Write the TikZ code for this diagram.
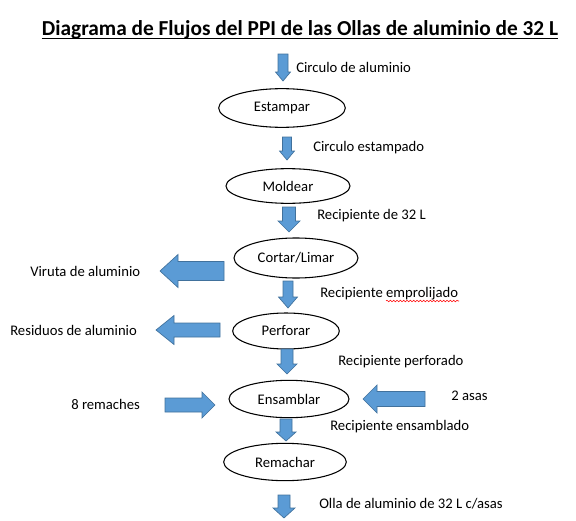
\documentclass[tikz,border=0pt]{standalone}
\usepackage{fontspec}
\setmainfont{Carlito}
\usetikzlibrary{shapes.geometric,decorations.pathmorphing}
\definecolor{azulflujo}{RGB}{91,155,213}
\definecolor{bordeflujo}{RGB}{65,113,156}
% #1 punta, #2 giro, #3 largo, #4 ancho cuerpo, #5 ancho punta, #6 largo punta
\newcommand{\flecha}[6]{%
  \draw[flujo,shift={#1},rotate=#2] (0,0) -- (-#6,#5/2) -- (-#6,#4/2) -- (-#3,#4/2)
    -- (-#3,-#4/2) -- (-#6,-#4/2) -- (-#6,-#5/2) -- cycle;}
\tikzset{
  flujo/.style={fill=azulflujo,draw=bordeflujo,line width=0.5pt,line join=miter},
  proceso/.style={draw,ellipse,line width=0.8pt,inner sep=0pt,font=\fontsize{11}{13}\selectfont},
  rotulo/.style={anchor=west,inner sep=0pt,font=\fontsize{11}{13}\selectfont}
}
\begin{document}
\begin{tikzpicture}[x=0.75pt,y=-0.75pt]
  \useasboundingbox (0,0) rectangle (576,521);
  \node[anchor=base,inner sep=0pt,font=\bfseries\fontsize{16}{19}\selectfont] (titulo) at (300,36)
    {Diagrama de Flujos del PPI de las Ollas de aluminio de 32 L};
  \draw[line width=1pt] ([yshift=-2pt]titulo.base west) -- ([yshift=-2pt]titulo.base east);

  \node[proceso,minimum width=95pt,minimum height=29pt] (estampar) at (282,108) {Estampar};
  \node[proceso,minimum width=93pt,minimum height=26pt] (moldear) at (288,186) {Moldear};
  \node[proceso,minimum width=93pt,minimum height=30pt] (cortar) at (296,258) {Cortar/Limar};
  \node[proceso,minimum width=80pt,minimum height=27pt] (perforar) at (286,331) {Perforar};
  \node[proceso,minimum width=90pt,minimum height=28pt] (ensamblar) at (289,399) {Ensamblar};
  \node[proceso,minimum width=92pt,minimum height=28pt] (remachar) at (285,462) {Remachar};

  \coordinate (f1) at (283,81);  \coordinate (f2) at (287,160); \coordinate (f3) at (289,232);
  \coordinate (f4) at (288,308); \coordinate (f5) at (287,374); \coordinate (f6) at (286,441);
  \coordinate (f7) at (284,518);
  \flecha{(f1)}{-90}{27}{10}{15}{9}
  \flecha{(f2)}{-90}{23}{9}{15}{9}
  \flecha{(f3)}{-90}{25}{13}{22}{11}
  \flecha{(f4)}{-90}{27}{10}{19}{11}
  \flecha{(f5)}{-90}{25}{12}{20}{10}
  \flecha{(f6)}{-90}{22}{12}{20}{9}
  \flecha{(f7)}{-90}{23}{12}{22}{10}

  \coordinate (viruta) at (160,271); \coordinate (residuos) at (156,330);
  \coordinate (asas) at (363,399);   \coordinate (remaches) at (215,405);
  \flecha{(viruta)}{180}{64}{19}{33}{18}
  \flecha{(residuos)}{180}{64}{14}{29}{18}
  \flecha{(asas)}{180}{62}{15}{28}{14}
  \flecha{(remaches)}{0}{50}{14}{26}{13}

  \node[rotulo] (t1) at (296,67) {Circulo de aluminio};
  \node[rotulo] (t2) at (313,148) {Circulo estampado};
  \node[rotulo] (t3) at (317,216) {Recipiente de 32 L};
  \node[rotulo] (t4) at (320,294) {Recipiente emprolijado};
  \node[rotulo] (t5) at (338,362) {Recipiente perforado};
  \node[rotulo] (t6) at (330,427) {Recipiente ensamblado};
  \node[rotulo] (t7) at (319,504) {Olla de aluminio de 32 L c/asas};
  \node[rotulo] (tv) at (30,271) {Viruta de aluminio};
  \node[rotulo] (tr) at (10,330) {Residuos de aluminio};
  \node[rotulo] (tm) at (71,404) {8 remaches};
  \node[rotulo] (ta) at (451,396) {2 asas};
  \draw[red,line width=0.4pt,decorate,decoration={snake,amplitude=0.6pt,segment length=2.5pt}]
    (386,301) -- (459,301);
\end{tikzpicture}
\end{document}
